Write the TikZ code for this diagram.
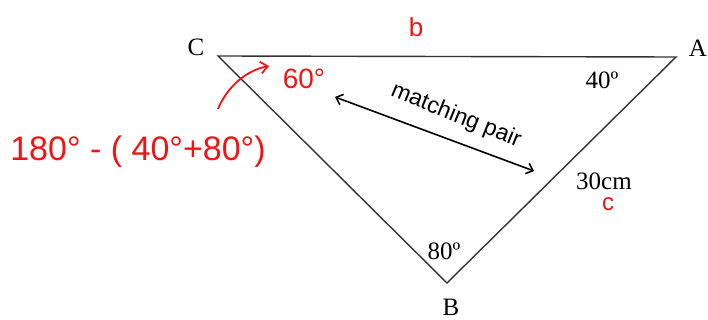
\documentclass[tikz,border=0pt]{standalone}
\usepackage{fontspec}
\setmainfont{Liberation Serif}
\newfontfamily\handfont{Liberation Sans}
\usetikzlibrary{arrows.meta}
\definecolor{inkred}{RGB}{240,20,20}
\begin{document}
\begin{tikzpicture}[x=1pt,y=-1pt,
  lbl/.style={font=\fontsize{25}{27}\selectfont, inner sep=0pt},
  redhand/.style={text=inkred, inner sep=0pt, font=\handfont},
  side/.style={draw=black!80, line width=1.4pt}]
\useasboundingbox (0,0) rectangle (708,320);
\coordinate (C) at (218,56);
\coordinate (A) at (676,57);
\coordinate (B) at (447,283);
\draw[side] (C) -- (A) -- (B) -- cycle;
\node[lbl] (lC) at (196,47) {C};
\node[lbl] (lA) at (698,48) {A};
\node[lbl] (lB) at (451,307) {B};
\node[lbl] (a40) at (602,80) {40º};
\node[lbl] (a80) at (444,251) {80º};
\node[lbl] (len) at (604,181) {30cm};
\node[redhand, font=\handfont\fontsize{26}{28}\selectfont] (sb) at (416,27) {b};
\node[redhand, font=\handfont\fontsize{24}{26}\selectfont] (sc) at (608,204) {c};
\node[redhand, font=\handfont\fontsize{28}{30}\selectfont] (s60) at (304,79) {60°};
\node[redhand, font=\handfont\fontsize{34}{36}\selectfont] (calc) at (138,152) {180° - ( 40°+80°)};
\coordinate (r1) at (218,109);
\coordinate (r2) at (269,66);
\draw[inkred, line width=1.8pt, -{Straight Barb[length=7pt,width=12pt]}] (r1) .. controls (228,85) and (248,70) .. (r2);
\coordinate (m1) at (335,97);
\coordinate (m2) at (534,171);
\draw[black, line width=1.6pt, {Straight Barb[length=6pt,width=11pt]}-{Straight Barb[length=6pt,width=11pt]}] (m1) -- (m2);
\node[inner sep=0pt, rotate=-22, font=\handfont\fontsize{23}{25}\selectfont] (mp) at (456,116) {matching pair};
\end{tikzpicture}
\end{document}
